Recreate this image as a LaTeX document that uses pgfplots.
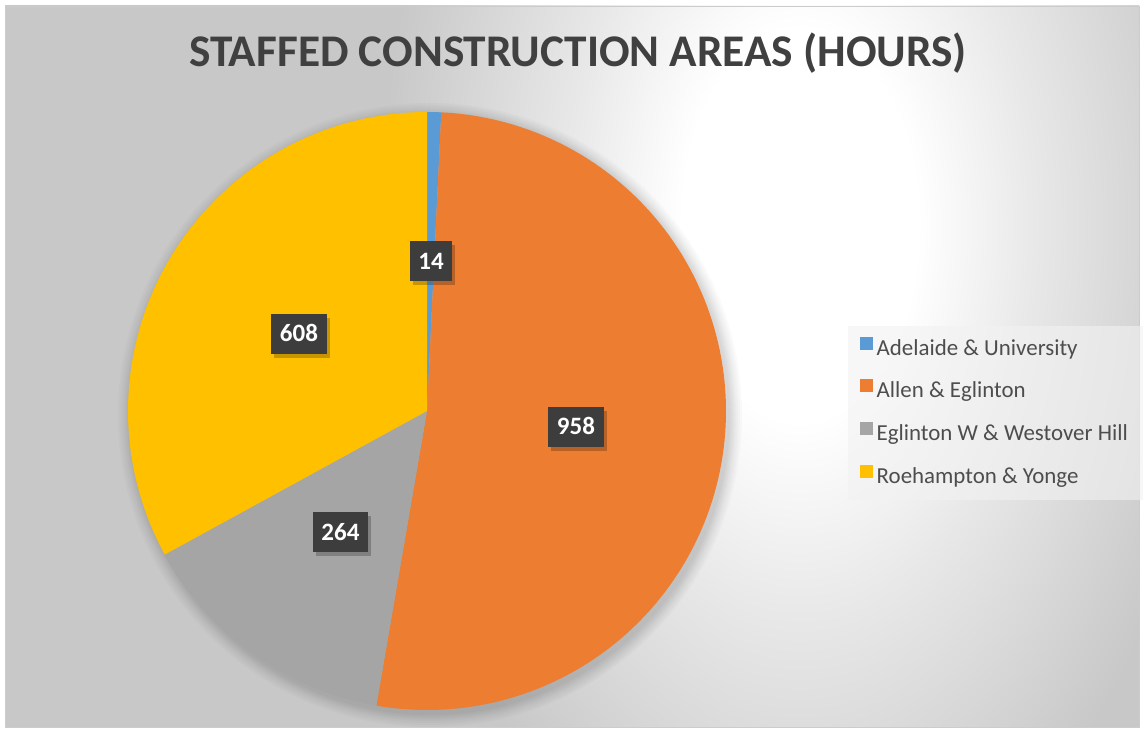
\documentclass[border=0pt]{standalone}
\usepackage{pgfplots}
\pgfplotsset{compat=1.18}
\usepackage{pgfplotstable}
\usepackage{fontspec}
\setmainfont{Carlito}
\usetikzlibrary{shadows}
\definecolor{cA}{HTML}{5B9BD5}
\definecolor{cB}{HTML}{ED7D31}
\definecolor{cC}{HTML}{A5A5A5}
\definecolor{cD}{HTML}{FFC000}
\definecolor{bggray}{HTML}{C8C8C8}
\definecolor{bgmid}{HTML}{E8E8E8}
\definecolor{titlegray}{HTML}{404040}
\definecolor{legtext}{HTML}{4D4D4D}
\definecolor{legfill}{HTML}{F2F2F2}
\definecolor{labbox}{HTML}{3D3D3D}
\pgfdeclareradialshading{bgshade}{\pgfpoint{0bp}{0bp}}{color(0bp)=(white); color(7bp)=(white); color(14bp)=(bgmid); color(25bp)=(bggray); color(50bp)=(bggray)}
\pgfplotstableread{
site hours
Adelaide 14
Allen 958
Eglinton 264
Roehampton 608
}\piedata
\begin{document}
\begin{tikzpicture}
\pgfplotstablegetelem{0}{hours}\of\piedata \edef\va{\pgfplotsretval}
\pgfplotstablegetelem{1}{hours}\of\piedata \edef\vb{\pgfplotsretval}
\pgfplotstablegetelem{2}{hours}\of\piedata \edef\vc{\pgfplotsretval}
\pgfplotstablegetelem{3}{hours}\of\piedata \edef\vd{\pgfplotsretval}
\pgfmathsetmacro\tot{\va+\vb+\vc+\vd}
\pgfmathsetmacro\unit{360/\tot}
\pgfmathsetmacro\aA{90-\unit*\va}
\pgfmathsetmacro\aB{\aA-\unit*\vb}
\pgfmathsetmacro\aC{\aB-\unit*\vc}
\begin{axis}[
  width=1144pt, height=733pt, scale only axis,
  xmin=0, xmax=1144, ymin=0, ymax=733,
  hide axis, clip=false,
  legend style={at={(axis cs:848,407)}, anchor=north west,
    fill=legfill, fill opacity=0.6, text opacity=1, draw=none,
    inner xsep=12pt, inner ysep=10.5pt, row sep=18.2pt,
    font=\fontsize{22.9pt}{27pt}\selectfont, text=legtext,
    nodes={text height=17pt, text depth=6pt, inner xsep=3.5pt, inner ysep=0pt}},
  legend cell align=left,
  legend image code/.code={\fill[#1, fill opacity=1] (0pt,0pt) rectangle (13pt,13pt);},
]
% background
\fill[white] (axis cs:0,0) rectangle (axis cs:1144,733);
\begin{scope}
\clip (axis cs:5,6) rectangle (axis cs:1139,727);
\fill[bggray] (axis cs:0,0) rectangle (axis cs:1144,733);
\shade[shading=bgshade] (axis cs:800,508) ellipse [x radius=420, y radius=700];
\end{scope}
\draw[black!20, line width=0.8pt] (axis cs:5,6) rectangle (axis cs:1139,727);
% pie shadow
\fill[black, opacity=0.018] (axis cs:430,318) circle [radius=312];
\fill[black, opacity=0.018] (axis cs:430,318) circle [radius=310];
\fill[black, opacity=0.018] (axis cs:430,318) circle [radius=308];
\fill[black, opacity=0.018] (axis cs:430,318) circle [radius=306];
\fill[black, opacity=0.018] (axis cs:430,318) circle [radius=304.5];
\fill[black, opacity=0.018] (axis cs:430,318) circle [radius=303];
\fill[black, opacity=0.018] (axis cs:430,318) circle [radius=301.5];
\fill[black, opacity=0.018] (axis cs:430,318) circle [radius=300];
% wedges
\addplot[fill=cA, draw=none, domain=\aA:90, samples=6] ({427+299*cos(x)},{322+299*sin(x)}) -- (axis cs:427,322) -- cycle;
\addlegendentry{Adelaide \& University}
\addplot[fill=cB, draw=none, domain=\aB:\aA, samples=150] ({427+299*cos(x)},{322+299*sin(x)}) -- (axis cs:427,322) -- cycle;
\addlegendentry{Allen \& Eglinton}
\addplot[fill=cC, draw=none, domain=\aC:\aB, samples=50] ({427+299*cos(x)},{322+299*sin(x)}) -- (axis cs:427,322) -- cycle;
\addlegendentry{Eglinton W \& Westover Hill}
\addplot[fill=cD, draw=none, domain=-270:\aC, samples=100] ({427+299*cos(x)},{322+299*sin(x)}) -- (axis cs:427,322) -- cycle;
\addlegendentry{Roehampton \& Yonge}
% data labels
\addplot[draw=none, mark=none, forget plot, nodes near coords, point meta=explicit symbolic,
  nodes near coords style={anchor=center, fill=labbox, text=white,
    font=\fontsize{25pt}{28pt}\selectfont\bfseries,
    text height=16pt, text depth=0pt, inner xsep=8.5pt, inner ysep=12pt,
    drop shadow={shadow xshift=3pt, shadow yshift=-4pt, opacity=0.22, fill=black}}]
  coordinates {(431,471.5)[14] (576,306)[958] (340.5,200.5)[264] (299,399)[608]};
% title
\node[anchor=base, font=\fontsize{45.3pt}{54pt}\selectfont\bfseries, text=titlegray] at (axis cs:578,666.5) {STAFFED CONSTRUCTION AREAS (HOURS)};
\end{axis}
\end{tikzpicture}
\end{document}
